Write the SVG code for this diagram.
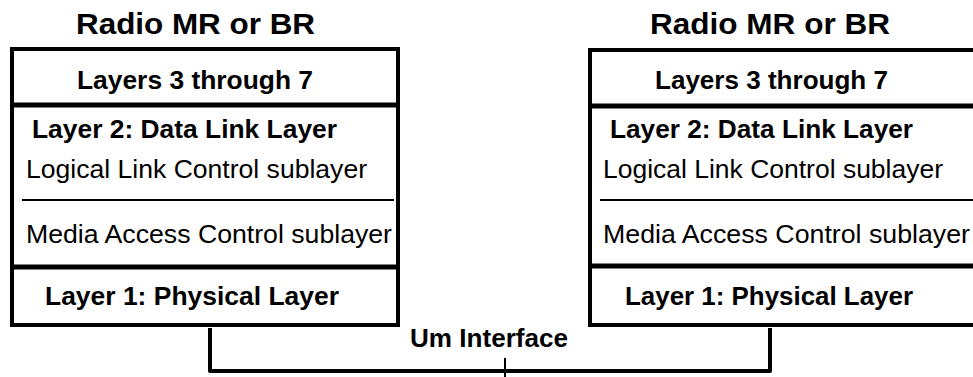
<svg xmlns="http://www.w3.org/2000/svg" width="973" height="377" viewBox="0 0 973 377">
<style>
text{font-family:"Liberation Sans",Arial,sans-serif;fill:#000}
.b{font-weight:bold}
.box{fill:#fff;stroke:#000;stroke-width:4}
.sep{stroke:#000;stroke-width:5}
.thin{stroke:#000;stroke-width:2}
.con{fill:none;stroke:#000;stroke-width:4;stroke-linejoin:round}
</style>
<rect width="973" height="377" fill="#fff"/>
<g id="left-stack">
<text class="b" x="76" y="34" font-size="30" textLength="239" lengthAdjust="spacingAndGlyphs">Radio MR or BR</text>
<rect class="box" x="12" y="49" width="386" height="276"/>
<line class="sep" x1="12" y1="105" x2="398" y2="105"/>
<line class="sep" x1="12" y1="267" x2="398" y2="267"/>
<line class="thin" x1="22" y1="200" x2="394" y2="200"/>
<text class="b" x="77" y="89" font-size="26" textLength="236" lengthAdjust="spacingAndGlyphs">Layers 3 through 7</text>
<text class="b" x="32" y="138" font-size="26" textLength="305" lengthAdjust="spacingAndGlyphs">Layer 2: Data Link Layer</text>
<text x="26" y="178" font-size="26" textLength="341" lengthAdjust="spacingAndGlyphs">Logical Link Control sublayer</text>
<text x="26" y="243" font-size="26" textLength="366" lengthAdjust="spacingAndGlyphs">Media Access Control sublayer</text>
<text class="b" x="45" y="305" font-size="26" textLength="294" lengthAdjust="spacingAndGlyphs">Layer 1: Physical Layer</text>
</g>
<g id="right-stack">
<text class="b" x="650" y="34" font-size="30" textLength="240" lengthAdjust="spacingAndGlyphs">Radio MR or BR</text>
<rect class="box" x="590" y="50" width="390" height="275"/>
<line class="sep" x1="590" y1="106" x2="980" y2="106"/>
<line class="sep" x1="590" y1="266" x2="980" y2="266"/>
<line class="thin" x1="600" y1="200" x2="980" y2="200"/>
<text class="b" x="655" y="89" font-size="26" textLength="233" lengthAdjust="spacingAndGlyphs">Layers 3 through 7</text>
<text class="b" x="610" y="138" font-size="26" textLength="303" lengthAdjust="spacingAndGlyphs">Layer 2: Data Link Layer</text>
<text x="603" y="178" font-size="26" textLength="340" lengthAdjust="spacingAndGlyphs">Logical Link Control sublayer</text>
<text x="603" y="243" font-size="26" textLength="367" lengthAdjust="spacingAndGlyphs">Media Access Control sublayer</text>
<text class="b" x="625" y="305" font-size="26" textLength="288" lengthAdjust="spacingAndGlyphs">Layer 1: Physical Layer</text>
</g>
<g id="connectors">
<path class="con" d="M210 328 V371 H770 V328"/>
<line class="thin" x1="505" y1="358" x2="505" y2="377"/>
<text class="b" x="410" y="347" font-size="25" textLength="158" lengthAdjust="spacingAndGlyphs">Um Interface</text>
</g>
</svg>
